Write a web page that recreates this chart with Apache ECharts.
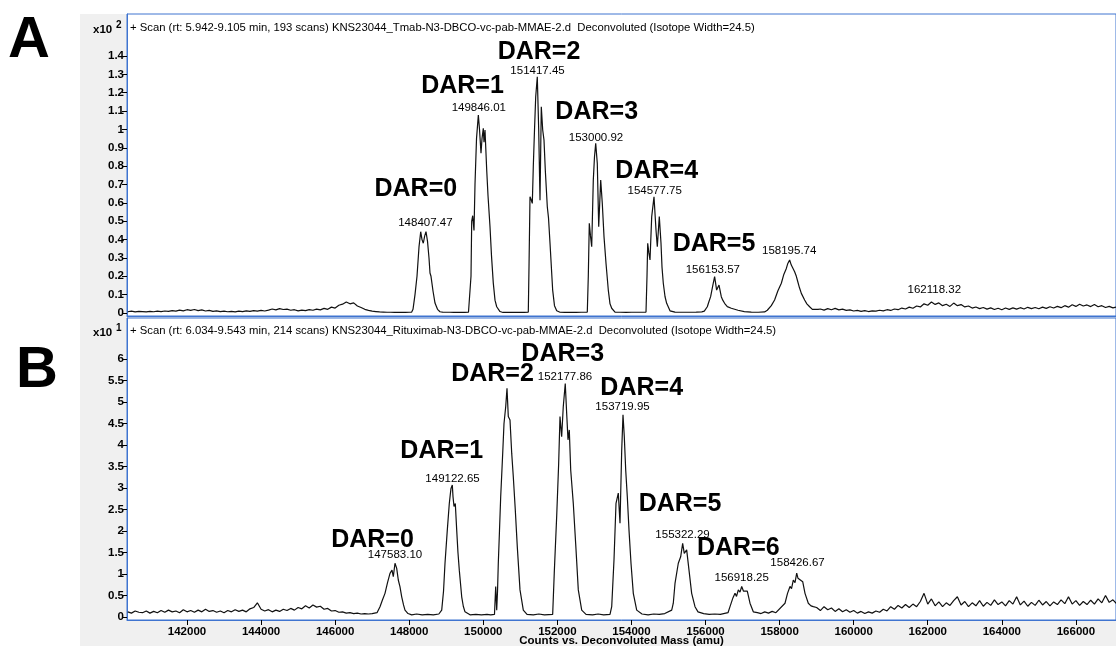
<!DOCTYPE html>
<html><head><meta charset="utf-8">
<script src="https://cdn.jsdelivr.net/npm/echarts@6/dist/echarts.min.js"></script>
<style>
html,body{margin:0;padding:0;background:#fff;}
#bg{position:absolute;left:80px;top:14px;width:1036px;height:632px;background:#f0f0f0;}
#chart{position:absolute;left:0;top:0;width:1116px;height:646px;}
</style></head>
<body><div id="bg"></div><div id="chart"></div>
<script>
// ---------- DATA ----------
const xTicks = [142000,144000,146000,148000,150000,152000,154000,156000,158000,160000,162000,164000,166000];
const yTicksA = [0,0.1,0.2,0.3,0.4,0.5,0.6,0.7,0.8,0.9,1,1.1,1.2,1.3,1.4];
const yTicksB = [0,0.5,1,1.5,2,2.5,3,3.5,4,4.5,5,5.5,6];
const titleA = "+ Scan (rt: 5.942-9.105 min, 193 scans) KNS23044_Tmab-N3-DBCO-vc-pab-MMAE-2.d  Deconvoluted (Isotope Width=24.5)";
const titleB = "+ Scan (rt: 6.034-9.543 min, 214 scans) KNS23044_Rituximab-N3-DBCO-vc-pab-MMAE-2.d  Deconvoluted (Isotope Width=24.5)";
const xAxisName = "Counts vs. Deconvoluted Mass (amu)";

// Panel A spectrum: [mass (amu), counts x10^2]
const spectrumA = [
[140400,0.007],[140500,0.010],[140600,0.006],[140700,0.009],[140800,0.008],[140900,0.006],[141000,0.009],[141100,0.007],[141200,0.010],[141300,0.008],
[141400,0.011],[141500,0.009],[141600,0.013],[141700,0.010],[141800,0.016],[141900,0.012],[142000,0.018],[142100,0.014],[142200,0.019],[142300,0.013],
[142400,0.017],[142500,0.011],[142600,0.014],[142700,0.009],[142800,0.012],[142900,0.008],[143000,0.010],[143100,0.007],[143200,0.009],[143300,0.006],
[143400,0.010],[143500,0.008],[143600,0.012],[143700,0.009],[143800,0.013],[143900,0.010],[144000,0.014],[144100,0.011],[144200,0.016],[144300,0.022],
[144400,0.017],[144500,0.024],[144600,0.019],[144700,0.021],[144800,0.015],[144900,0.018],[145000,0.012],[145100,0.016],[145200,0.013],[145300,0.018],
[145400,0.015],[145500,0.021],[145600,0.017],[145700,0.025],[145800,0.020],[145900,0.032],[146000,0.027],[146100,0.042],[146200,0.048],[146300,0.060],
[146400,0.050],[146500,0.055],[146600,0.038],[146700,0.030],[146800,0.020],[146900,0.014],[147000,0.010],[147100,0.008],[147200,0.006],[147300,0.005],
[147400,0.004],[147500,0.004],[147600,0.003],[147700,0.003],[147800,0.003],[147900,0.003],[148000,0.004],
[148067,0.005],[148102,0.02],[148156,0.10],[148210,0.20],[148264,0.36],[148310,0.443],[148345,0.40],[148380,0.38],[148418,0.42],[148453,0.443],
[148494,0.39],[148534,0.30],[148561,0.218],[148588,0.20],[148642,0.12],[148696,0.054],[148764,0.02],[148831,0.007],
[148900,0.005],[149000,0.004],[149100,0.004],[149200,0.003],[149300,0.003],[149400,0.003],[149500,0.003],[149600,0.004],
[149641,0.005],[149668,0.20],[149687,0.50],[149714,0.53],[149749,0.45],[149776,0.70],[149817,0.95],[149866,1.078],[149898,1.00],[149938,0.87],
[149965,0.95],[150000,1.006],[150019,0.93],[150046,0.997],[150092,0.779],[150127,0.64],[150181,0.47],[150222,0.31],[150270,0.163],[150316,0.07],
[150362,0.034],[150451,0.008],[150532,0.003],[150650,0.003],[150800,0.003],[150950,0.004],[151100,0.003],
[151215,0.005],[151234,0.25],[151261,0.633],[151288,0.62],[151323,0.597],[151350,0.797],[151383,1.0],[151415,1.178],[151458,1.287],[151496,0.997],
[151531,0.615],[151566,1.124],[151604,0.997],[151639,0.942],[151674,0.779],[151728,0.579],[151760,0.52],[151801,0.381],[151873,0.125],[151922,0.04],
[151982,0.012],[152071,0.004],[152200,0.003],[152350,0.004],[152500,0.003],[152650,0.004],
[152808,0.005],[152835,0.2],[152862,0.489],[152894,0.42],[152927,0.361],[152970,0.724],[153002,0.85],[153035,0.924],[153078,0.815],[153116,0.47],
[153170,0.724],[153213,0.597],[153259,0.416],[153313,0.271],[153375,0.125],[153421,0.05],[153467,0.026],[153556,0.005],
[153700,0.004],[153850,0.003],[154000,0.004],[154150,0.004],[154300,0.004],
[154393,0.005],[154420,0.2],[154439,0.38],[154469,0.33],[154501,0.289],[154547,0.525],[154609,0.633],[154663,0.452],[154698,0.361],[154752,0.525],
[154798,0.38],[154825,0.25],[154860,0.162],[154906,0.09],[154951,0.053],[155041,0.012],[155176,0.005],
[155350,0.004],[155550,0.004],[155750,0.005],[155900,0.006],
[155967,0.01],[156048,0.034],[156089,0.06],[156138,0.089],[156197,0.15],[156246,0.198],[156300,0.125],[156364,0.152],[156426,0.089],[156466,0.07],
[156515,0.053],[156588,0.035],[156696,0.026],[156877,0.015],[157047,0.008],[157236,0.005],[157425,0.004],[157595,0.006],
[157668,0.015],[157776,0.04],[157865,0.071],[157952,0.12],[158047,0.162],[158114,0.21],[158182,0.243],[158222,0.27],[158271,0.289],[158316,0.261],
[158357,0.255],[158406,0.225],[158452,0.2],[158479,0.18],[158533,0.14],[158587,0.107],[158676,0.071],[158736,0.05],[158811,0.034],[158884,0.02],
[158938,0.026],[159038,0.02],
[159100,0.022],[159200,0.016],[159300,0.024],[159400,0.018],[159500,0.025],[159600,0.017],[159700,0.021],[159800,0.014],[159900,0.017],[160000,0.011],
[160100,0.014],[160200,0.009],[160300,0.013],[160400,0.008],[160500,0.012],[160600,0.010],[160700,0.015],[160800,0.012],[160900,0.018],[161000,0.014],
[161100,0.022],[161200,0.018],[161300,0.027],[161400,0.022],[161500,0.032],[161600,0.026],[161700,0.038],[161800,0.033],[161900,0.050],[162000,0.042],
[162100,0.060],[162200,0.047],[162300,0.055],[162400,0.040],[162500,0.048],[162600,0.036],[162700,0.054],[162800,0.040],[162900,0.046],[163000,0.033],
[163100,0.038],[163200,0.027],[163300,0.033],[163400,0.024],[163500,0.030],[163600,0.021],[163700,0.028],[163800,0.019],[163900,0.026],[164000,0.018],
[164100,0.027],[164200,0.020],[164300,0.028],[164400,0.021],[164500,0.029],[164600,0.022],[164700,0.031],[164800,0.024],[164900,0.030],[165000,0.023],
[165100,0.032],[165200,0.025],[165300,0.034],[165400,0.027],[165500,0.036],[165600,0.029],[165700,0.040],[165800,0.032],[165900,0.045],[166000,0.036],
[166100,0.048],[166200,0.038],[166300,0.044],[166400,0.035],[166500,0.046],[166600,0.034],[166700,0.040],[166800,0.030],[166900,0.036],[167000,0.028],
[167100,0.033]
];

// Panel B spectrum: [mass (amu), counts x10^1]
const spectrumB = [
[140400,0.12],[140500,0.09],[140600,0.14],[140700,0.11],[140800,0.10],[140900,0.14],[141000,0.09],[141100,0.13],[141200,0.10],[141300,0.15],
[141400,0.11],[141500,0.16],[141600,0.12],[141700,0.14],[141800,0.10],[141900,0.17],[142000,0.12],[142100,0.15],[142200,0.11],[142300,0.16],
[142400,0.12],[142500,0.18],[142600,0.13],[142700,0.15],[142800,0.11],[142900,0.14],[143000,0.10],[143100,0.15],[143200,0.12],[143300,0.17],
[143400,0.13],[143500,0.16],[143600,0.12],[143700,0.19],[143800,0.22],[143900,0.33],[144000,0.18],[144100,0.14],[144200,0.17],[144300,0.12],
[144400,0.16],[144500,0.13],[144600,0.18],[144700,0.15],[144800,0.20],[144900,0.16],[145000,0.22],[145100,0.19],[145200,0.26],[145300,0.21],
[145400,0.28],[145500,0.23],[145600,0.25],[145700,0.18],[145800,0.20],[145900,0.14],[146000,0.15],[146100,0.11],[146200,0.12],[146300,0.09],
[146400,0.10],[146500,0.08],[146600,0.09],[146700,0.07],[146800,0.08],[146900,0.07],[147000,0.08],[147130,0.10],
[147211,0.24],[147279,0.40],[147346,0.55],[147414,0.80],[147481,1.016],[147535,1.09],[147570,0.94],[147616,1.25],[147662,1.13],[147705,0.86],
[147751,0.70],[147797,0.47],[147846,0.28],[147886,0.16],[147967,0.08],[148067,0.05],
[148200,0.07],[148350,0.05],[148500,0.06],[148650,0.05],[148800,0.07],
[148877,0.16],[148926,0.60],[148966,1.25],[149028,2.02],[149082,2.64],[149109,2.85],[149128,2.99],[149163,3.07],[149182,2.80],[149209,2.57],
[149244,2.64],[149282,2.02],[149316,1.50],[149352,1.09],[149417,0.47],[149460,0.25],[149506,0.12],[149641,0.05],
[149800,0.06],[149950,0.05],[150100,0.06],[150200,0.05],
[150302,0.06],[150335,0.71],[150362,0.16],[150384,0.6],[150405,1.25],[150437,2.0],[150470,2.80],[150497,3.3],[150524,3.81],[150559,4.5],
[150605,4.89],[150640,5.32],[150675,4.66],[150721,4.58],[150767,3.81],[150810,3.26],[150864,2.49],[150918,1.63],[150991,0.63],[151080,0.16],
[151180,0.06],[151350,0.05],[151500,0.07],[151650,0.05],
[151873,0.06],[151916,1.02],[151981,2.33],[152035,3.57],[152071,4.66],[152116,4.19],[152159,4.89],[152213,5.43],[152251,4.74],[152287,4.12],
[152322,4.35],[152360,3.42],[152430,2.64],[152494,1.71],[152565,0.63],[152657,0.16],[152773,0.06],
[152950,0.05],[153100,0.07],[153250,0.05],
[153421,0.06],[153467,0.24],[153529,1.33],[153583,2.64],[153645,2.88],[153691,2.18],[153737,3.88],[153772,4.70],[153807,4.19],[153845,3.42],
[153888,2.80],[153934,2.02],[153988,1.25],[154050,0.55],[154142,0.16],[154285,0.07],
[154450,0.05],[154600,0.07],[154750,0.06],[154900,0.08],
[155087,0.16],[155130,0.32],[155176,0.78],[155265,1.25],[155329,1.40],[155383,1.71],[155426,1.48],[155491,1.56],[155554,1.09],[155626,0.55],
[155716,0.24],[155797,0.12],[155950,0.08],[156100,0.06],[156250,0.07],[156400,0.06],
[156607,0.10],[156661,0.24],[156742,0.45],[156796,0.55],[156837,0.48],[156886,0.63],[156931,0.58],[156977,0.71],[157026,0.60],[157066,0.63],
[157128,0.60],[157201,0.32],[157290,0.12],[157400,0.10],[157500,0.08],[157600,0.12],[157700,0.09],[157800,0.13],[157900,0.10],
[158146,0.32],[158214,0.55],[158281,0.71],[158322,0.66],[158370,0.86],[158416,0.80],[158462,1.02],[158497,0.90],[158551,0.94],[158624,0.82],
[158686,0.55],[158775,0.32],[158848,0.26],[158910,0.24],
[159000,0.22],[159100,0.15],[159200,0.24],[159300,0.17],[159400,0.21],[159500,0.13],[159600,0.19],[159700,0.12],[159800,0.17],[159900,0.11],
[160000,0.15],[160100,0.09],[160200,0.13],[160300,0.08],[160400,0.12],[160500,0.09],[160600,0.14],[160700,0.11],[160800,0.18],[160900,0.14],
[161000,0.24],[161100,0.18],[161200,0.27],[161300,0.21],[161400,0.29],[161500,0.22],[161600,0.30],[161700,0.24],[161800,0.36],[161900,0.55],
[162000,0.30],[162100,0.42],[162200,0.26],[162300,0.35],[162400,0.24],[162500,0.33],[162600,0.27],[162700,0.38],[162800,0.47],[162900,0.28],
[163000,0.36],[163100,0.24],[163200,0.33],[163300,0.26],[163400,0.38],[163500,0.25],[163600,0.34],[163700,0.27],[163800,0.40],[163900,0.29],
[164000,0.35],[164100,0.26],[164200,0.38],[164300,0.30],[164400,0.47],[164500,0.28],[164600,0.37],[164700,0.25],[164800,0.34],[164900,0.27],
[165000,0.39],[165100,0.28],[165200,0.36],[165300,0.26],[165400,0.35],[165500,0.29],[165600,0.40],[165700,0.31],[165800,0.47],[165900,0.30],
[166000,0.38],[166100,0.27],[166200,0.36],[166300,0.29],[166400,0.39],[166500,0.30],[166600,0.42],[166700,0.33],[166800,0.50],[166900,0.34],
[167000,0.40],[167100,0.31]
];

// Annotations: [mass, height, text]
const darLabelsA = [[148178,0.675,"DAR=0"],[149439,1.237,"DAR=1"],[151504,1.419,"DAR=2"],[153062,1.097,"DAR=3"],[154682,0.774,"DAR=4"],[156229,0.376,"DAR=5"]];
const massLabelsA = [[148437,0.490,"148407.47"],[149879,1.119,"149846.01"],[151464,1.318,"151417.45"],[153043,0.956,"153000.92"],[154628,0.665,"154577.75"],[156197,0.234,"156153.57"],[158259,0.338,"158195.74"],[162177,0.125,"162118.32"]];
const darLabelsB = [[147009,1.791,"DAR=0"],[148877,3.860,"DAR=1"],[150249,5.651,"DAR=2"],[152144,6.116,"DAR=3"],[154277,5.326,"DAR=4"],[155311,2.628,"DAR=5"],[156885,1.605,"DAR=6"]];
const massLabelsB = [[147616,1.442,"147583.10"],[149169,3.221,"149122.65"],[152206,5.588,"152177.86"],[153759,4.884,"153719.95"],[155379,1.907,"155322.29"],[156977,0.907,"156918.25"],[158484,1.256,"158426.67"]];

// ---------- CHART ----------
const BLUE = '#3f74d0';
const FONT = '"Liberation Sans", Arial, sans-serif';
const chart = echarts.init(document.getElementById('chart'), null, {renderer:'canvas'});

function xAx(gi, withLabels){
  return {
    type:'value', gridIndex:gi, min:140380, max:167083,
    axisLine:{show:true, onZero:false, lineStyle:{color:BLUE, width:1}},
    axisTick:{show:withLabels, customValues:xTicks, length:5, lineStyle:{color:'#000'}},
    axisLabel:{show:withLabels, customValues:xTicks, formatter:v=>String(v), color:'#000', fontFamily:FONT, fontWeight:'bold', fontSize:11.5, margin:6},
    splitLine:{show:false},
    name: withLabels ? xAxisName : '', nameLocation:'middle', nameGap:15, nameMoveOverlap:false,
    nameTextStyle:{color:'#000', fontFamily:FONT, fontWeight:'bold', fontSize:11.5}
  };
}
function yAx(gi, min, max, ticks){
  return {
    type:'value', gridIndex:gi, min:min, max:max,
    axisLine:{show:true, onZero:false, lineStyle:{color:BLUE, width:1}},
    axisTick:{show:true, customValues:ticks, length:5, lineStyle:{color:'#000'}},
    axisLabel:{show:true, customValues:ticks, color:'#000', fontFamily:FONT, fontWeight:'bold', fontSize:11.5, margin:3},
    splitLine:{show:false}
  };
}
function lineSeries(idx, data){
  return {type:'line', xAxisIndex:idx, yAxisIndex:idx, data:data, showSymbol:false, symbol:'none',
    lineStyle:{color:'#111', width:1.2}, silent:true, z:3};
}
function labelSeries(idx, data, size, bold){
  return {type:'scatter', xAxisIndex:idx, yAxisIndex:idx, data:data, symbolSize:0, silent:true, z:5,
    itemStyle:{color:'#000', opacity:1},
    label:{show:true, position:[0,0], align:'center', verticalAlign:'middle', textBorderWidth:0, opacity:1,
      formatter:p=>p.data[2], color:'#000', fontFamily:FONT, fontSize:size, fontWeight:bold?'bold':'normal'}};
}

chart.setOption({
  animation:false,
  backgroundColor:'transparent',
  grid:[
    {left:127, top:14, width:989, height:302, outerBoundsMode:'none', containLabel:false, show:true, backgroundColor:'#fff', borderColor:BLUE, borderWidth:1},
    {left:127, top:318, width:989, height:302, outerBoundsMode:'none', containLabel:false, show:true, backgroundColor:'#fff', borderColor:BLUE, borderWidth:1}
  ],
  xAxis:[xAx(0,false), xAx(1,true)],
  yAxis:[yAx(0,-0.0163,1.629,yTicksA), yAx(1,-0.0698,6.953,yTicksB)],
  series:[
    lineSeries(0, spectrumA),
    lineSeries(1, spectrumB),
    labelSeries(0, darLabelsA, 25, true),
    labelSeries(0, massLabelsA, 11.5, false),
    labelSeries(1, darLabelsB, 25, true),
    labelSeries(1, massLabelsB, 11.5, false)
  ],
  graphic:[
    {type:'text', left:8, top:12, style:{text:'A', font:'bold 58px '+FONT, fill:'#000'}},
    {type:'text', left:16, top:342, style:{text:'B', font:'bold 58px '+FONT, fill:'#000'}},
    {type:'text', left:93, top:24, style:{text:'x10', font:'bold 11.5px '+FONT, fill:'#000'}},
    {type:'text', left:116, top:20, style:{text:'2', font:'bold 10px '+FONT, fill:'#000'}},
    {type:'text', left:93, top:327, style:{text:'x10', font:'bold 11.5px '+FONT, fill:'#000'}},
    {type:'text', left:116, top:323, style:{text:'1', font:'bold 10px '+FONT, fill:'#000'}},
    {type:'text', left:130, top:22, z:10, style:{text:titleA, font:'11.3px '+FONT, fill:'#000'}},
    {type:'text', left:130, top:325, z:10, style:{text:titleB, font:'11.3px '+FONT, fill:'#000'}}
  ]
});
</script></body></html>
